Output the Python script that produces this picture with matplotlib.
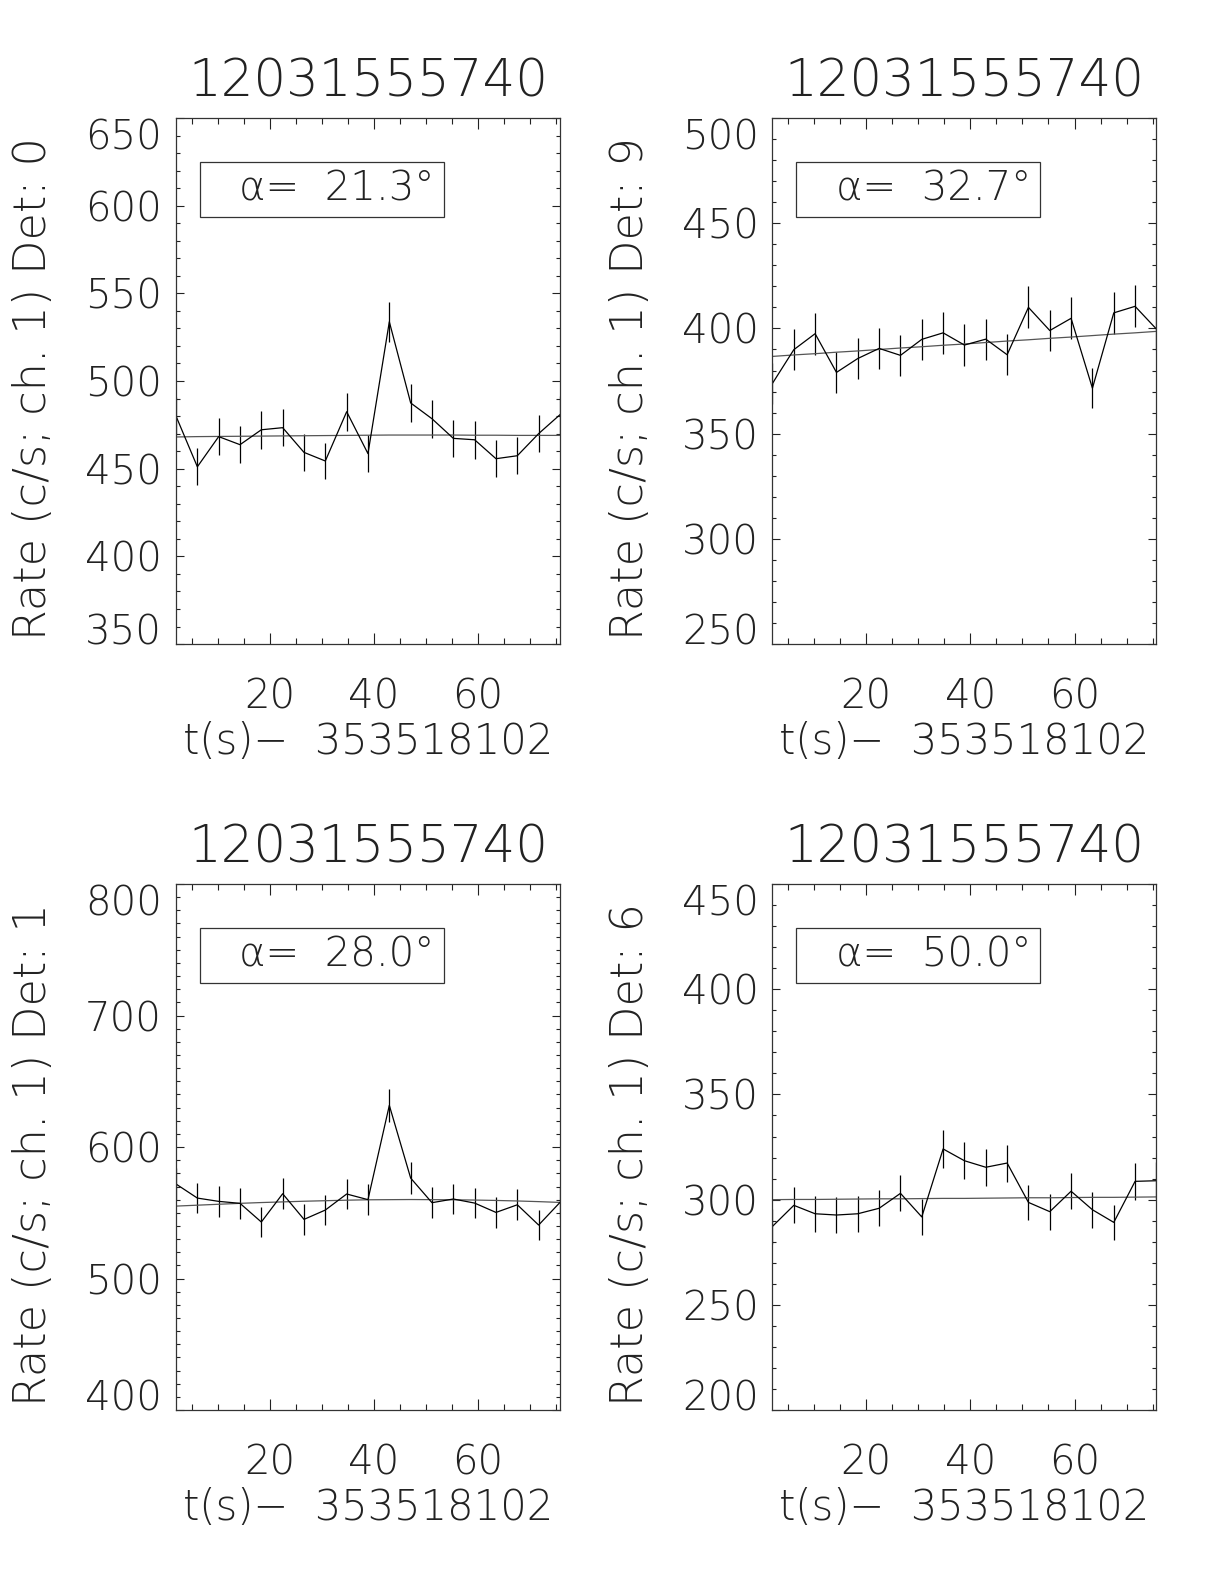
import matplotlib
matplotlib.use('Agg')
import matplotlib.pyplot as plt
from matplotlib import font_manager
from matplotlib.patches import Rectangle

# time bins (s) relative to 353518102
times = [2.00, 6.10, 10.19, 14.29, 18.38, 22.48, 26.58, 30.67, 34.77, 38.86,
         42.96, 47.06, 51.15, 55.25, 59.34, 63.44, 67.54, 71.63, 75.73]

title = '12031555740'
xlabel = 't(s)\u2212  353518102'

# detector 0
rate0 = [480.0, 451.1, 468.3, 463.7, 472.2, 473.4, 459.3, 454.4, 482.5, 458.6,
         533.8, 487.5, 478.5, 467.3, 466.5, 455.7, 457.4, 470.0, 480.8]
err0 = [10.8, 10.5, 10.7, 10.6, 10.7, 10.7, 10.6, 10.5, 10.9, 10.6,
        11.4, 10.9, 10.8, 10.7, 10.7, 10.6, 10.6, 10.7, 10.8]
bkg0 = [468.1, 468.3, 468.4, 468.5, 468.6, 468.7, 468.8, 468.9, 469.0, 469.1,
        469.2, 469.2, 469.2, 469.2, 469.1, 469.1, 469.0, 469.0, 469.0]

# detector 9
rate9 = [373.9, 389.9, 397.5, 379.1, 385.7, 390.5, 387.2, 394.8, 397.9, 392.1,
         394.9, 387.5, 410.0, 399.0, 404.8, 371.6, 407.4, 410.5, 399.7]
err9 = [9.6, 9.8, 9.9, 9.6, 9.7, 9.8, 9.7, 9.8, 9.9, 9.8,
        9.8, 9.7, 10.0, 9.9, 9.9, 9.5, 10.0, 10.0, 9.9]
bkg9 = [386.7, 387.4, 388.0, 388.7, 389.3, 390.0, 390.7, 391.3, 392.0, 392.6,
        393.3, 394.0, 394.6, 395.3, 395.9, 396.6, 397.3, 397.9, 398.6]

# detector 1
rate1 = [571.9, 561.2, 558.7, 557.2, 543.0, 564.5, 545.0, 552.1, 564.3, 560.0,
         631.7, 576.4, 557.7, 560.5, 557.4, 550.3, 556.1, 540.7, 557.9]
err1 = [11.8, 11.7, 11.7, 11.7, 11.5, 11.7, 11.5, 11.6, 11.7, 11.7,
        12.8, 11.9, 11.7, 11.7, 11.7, 11.6, 11.7, 11.5, 11.7]
bkg1 = [555.1, 555.8, 556.5, 557.2, 557.8, 558.3, 558.8, 559.2, 559.6, 559.9,
        560.0, 560.1, 560.0, 559.9, 559.7, 559.4, 559.0, 558.5, 557.9]

# detector 6
rate6 = [287.3, 297.3, 293.3, 292.7, 293.3, 295.9, 303.0, 291.8, 324.1, 318.5,
         315.4, 317.4, 298.7, 294.3, 304.0, 295.2, 289.2, 308.7, 309.0]
err6 = [8.4, 8.5, 8.5, 8.5, 8.5, 8.5, 8.6, 8.4, 8.9, 8.8,
        8.8, 8.8, 8.5, 8.5, 8.6, 8.5, 8.4, 8.7, 8.7]
bkg6 = [300.0, 300.1, 300.1, 300.2, 300.3, 300.4, 300.4, 300.5, 300.6, 300.6,
        300.7, 300.8, 300.9, 300.9, 301.0, 301.1, 301.1, 301.2, 301.3]

dets = ['0', '9', '1', '6']
angles = ['21.3', '32.7', '28.0', '50.0']
rates = [rate0, rate9, rate1, rate6]
errs = [err0, err9, err1, err6]
bkgs = [bkg0, bkg9, bkg1, bkg6]
yticks = [[350, 400, 450, 500, 550, 600, 650],
          [250, 300, 350, 400, 450, 500],
          [400, 500, 600, 700, 800],
          [200, 250, 300, 350, 400, 450]]
yminor = [10, 10, 10, 10]
xticks = [20, 40, 60]
xminor = [5, 10, 15, 25, 30, 35, 45, 50, 55, 65, 70, 75]


# pick a thin font if one is installed (the original uses a hairline vector font)
def weight_num(w):
    if isinstance(w, int):
        return w
    return {'ultralight': 200, 'extra-light': 200, 'light': 300}.get(w, 400)


fam, wt = 'DejaVu Sans', 'normal'
for name in ['DejaVu Sans', 'Open Sans', 'Lato', 'Roboto', 'Inter', 'Noto Sans']:
    ws = [weight_num(f.weight) for f in font_manager.fontManager.ttflist
          if f.name == name and f.style == 'normal']
    thin = [w for w in ws if w < 400]
    if thin:
        fam, wt = name, min(thin)
        break

plt.rcParams['font.family'] = [fam, 'DejaVu Sans']
plt.rcParams['font.weight'] = wt
tc = '#222222'

fig = plt.figure(figsize=(12.24, 15.84), dpi=100)
positions = [[0.1438, 0.5934, 0.3137, 0.3321],
             [0.6311, 0.5934, 0.3137, 0.3321],
             [0.1438, 0.1098, 0.3137, 0.3321],
             [0.6311, 0.1098, 0.3137, 0.3321]]

for i in range(4):
    ax = fig.add_axes(positions[i])
    ax.errorbar(times, rates[i], yerr=errs[i], color='black', lw=0.9,
                elinewidth=0.9, capsize=0)
    ax.plot(times, bkgs[i], color='#555555', lw=0.9)

    ax.set_xlim(times[0], times[-1])
    ax.set_ylim(yticks[i][0], yticks[i][-1])
    ax.set_xticks(xticks)
    ax.set_xticks(xminor, minor=True)
    ax.set_yticks(yticks[i])
    ax.set_yticks([v for v in range(yticks[i][0], yticks[i][-1], yminor[i])
                   if v not in yticks[i]], minor=True)

    ax.tick_params(which='both', direction='in', top=True, right=True,
                   labelsize=29, colors=tc, width=0.8)
    ax.tick_params(axis='x', which='major', length=8, pad=24)
    ax.tick_params(axis='x', which='minor', length=4.3)
    ax.tick_params(axis='y', which='major', length=6, pad=10)
    ax.tick_params(axis='y', which='minor', length=3)
    for sp in ax.spines.values():
        sp.set_linewidth(0.9)
        sp.set_color('#333333')

    # end labels sit inside the axis range, as in the original
    ylab = ax.get_yticklabels()
    ylab[0].set_verticalalignment('baseline')
    ylab[-1].set_verticalalignment('top')

    ax.text(0.5, 1.068, title, transform=ax.transAxes, ha='center',
            va='center', fontsize=37, color=tc)
    ax.text(0.5, -0.186, xlabel, transform=ax.transAxes, ha='center',
            va='center', fontsize=30, color=tc)
    ax.text(-0.37, 0.485, 'Rate (c/s; ch. 1) Det: ' + dets[i],
            transform=ax.transAxes, ha='center', va='center',
            rotation=90, fontsize=32, color=tc)

    ax.add_patch(Rectangle((0.0625, 0.812), 0.635, 0.105,
                           transform=ax.transAxes, fill=False,
                           lw=0.9, edgecolor='#333333'))
    ax.text(0.165, 0.865, '\u03b1=  ' + angles[i] + '\u00b0',
            transform=ax.transAxes, ha='left', va='center',
            fontsize=29, color=tc)

fig.savefig('out.png', dpi=100)
